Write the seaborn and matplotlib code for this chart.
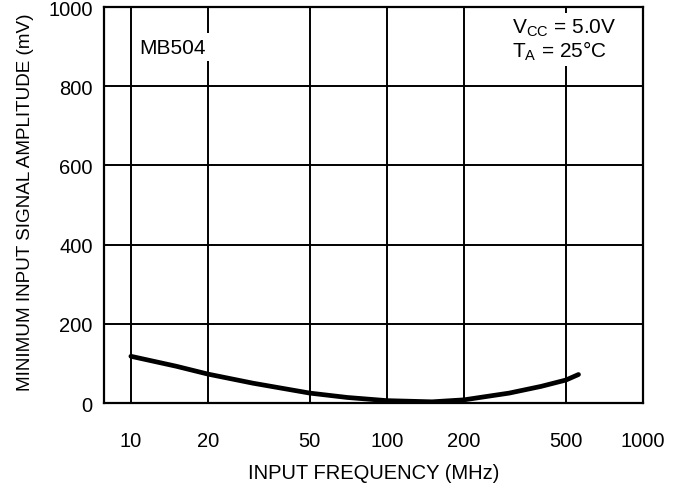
import matplotlib
matplotlib.use("Agg")
import matplotlib.pyplot as plt
import pandas as pd
import seaborn as sns

# curve
freq_mhz = [10, 15, 20, 30, 50, 70, 100, 150, 200, 300, 400, 500, 560]
amplitude_mv = [118, 93, 73, 50, 25, 14, 6, 3, 8, 25, 42, 58, 72]

x_ticks = [10, 20, 50, 100, 200, 500, 1000]
y_ticks = [0, 200, 400, 600, 800, 1000]

sns.set_style("white")
plt.rcParams["font.family"] = ["Liberation Sans", "DejaVu Sans"]
plt.rcParams["text.color"] = "black"
plt.rcParams["axes.labelcolor"] = "black"
plt.rcParams["xtick.color"] = "black"
plt.rcParams["ytick.color"] = "black"

df = pd.DataFrame({"freq": freq_mhz, "amp": amplitude_mv})

fig = plt.figure(figsize=(6.73, 4.89), dpi=100)
ax = fig.add_axes([0.1545, 0.1738, 0.8009, 0.8098])

sns.lineplot(data=df, x="freq", y="amp", color="black", linewidth=3.4, ax=ax, zorder=3)

ax.set_xscale("log")
ax.set_xlim(7.85, 965)
ax.set_ylim(0, 1000)
ax.set_xticks(x_ticks)
ax.set_xticklabels([str(t) for t in x_ticks])
ax.set_yticks(y_ticks)
ax.set_yticklabels([str(t) for t in y_ticks])
ax.minorticks_off()
ax.tick_params(axis="x", length=0, pad=20, labelsize=14.5)
ax.tick_params(axis="y", length=0, pad=8, labelsize=14.5)

ax.grid(True, color="black", linewidth=1.4, zorder=1)
ax.set_axisbelow(True)
for s in ax.spines.values():
    s.set_color("black")
    s.set_linewidth(1.6)

ax.set_xlabel("INPUT FREQUENCY (MHz)", fontsize=14.5)
ax.set_ylabel("MINIMUM INPUT SIGNAL AMPLITUDE (mV)", fontsize=13.6)
ax.xaxis.set_label_coords(0.5, -0.152)
ax.yaxis.set_label_coords(-0.13, 0.51)

box = dict(facecolor="white", edgecolor="none", pad=3)
ax.text(0.128, 0.899, "MB504", transform=ax.transAxes, ha="center", va="center",
        fontsize=15, bbox=box, zorder=4)
ax.text(0.757, 0.975, "$\\mathregular{V_{CC}}$ = 5.0V\n$\\mathregular{T_A}$ = 25°C",
        transform=ax.transAxes, ha="left", va="top", fontsize=15,
        linespacing=1.0, bbox=box, zorder=4)

fig.savefig("out.png", dpi=100)
